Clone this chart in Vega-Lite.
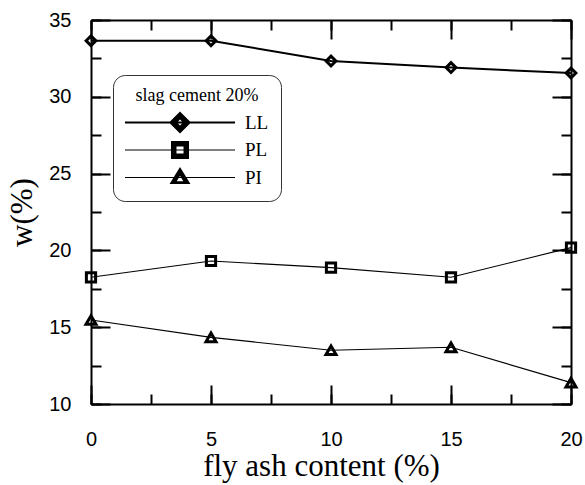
{
  "$schema": "https://vega.github.io/schema/vega-lite/v6.json",
  "width": 480,
  "height": 384,
  "autosize": {"type": "none"},
  "padding": {"left": 91, "top": 20, "right": 14, "bottom": 81},
  "background": "white",
  "config": {
    "view": {"stroke": null},
    "axis": {"domainColor": "black", "tickColor": "black", "labelColor": "black", "titleColor": "black", "grid": false, "domainWidth": 2, "tickWidth": 2, "labelFlush": false, "labelOverlap": false, "tickSize": -10}
  },
  "data": {
    "values": [
      {"flyash": 0, "series": "LL", "w": 33.65},
      {"flyash": 5, "series": "LL", "w": 33.65},
      {"flyash": 10, "series": "LL", "w": 32.33},
      {"flyash": 15, "series": "LL", "w": 31.9},
      {"flyash": 20, "series": "LL", "w": 31.55},
      {"flyash": 0, "series": "PL", "w": 18.25},
      {"flyash": 5, "series": "PL", "w": 19.31},
      {"flyash": 10, "series": "PL", "w": 18.88},
      {"flyash": 15, "series": "PL", "w": 18.25},
      {"flyash": 20, "series": "PL", "w": 20.18},
      {"flyash": 0, "series": "PI", "w": 15.47},
      {"flyash": 5, "series": "PI", "w": 14.34},
      {"flyash": 10, "series": "PI", "w": 13.5},
      {"flyash": 15, "series": "PI", "w": 13.69},
      {"flyash": 20, "series": "PI", "w": 11.39}
    ]
  },
  "layer": [
    {
      "transform": [{"filter": "datum.series === 'LL'"}],
      "mark": {"type": "line", "color": "black", "strokeWidth": 2},
      "encoding": {
        "x": {"field": "flyash", "type": "quantitative", "scale": {"domain": [0, 20], "nice": false, "zero": false},
          "axis": {"orient": "bottom", "values": [0, 2.5, 5, 7.5, 10, 12.5, 15, 17.5, 20],
            "labelExpr": "datum.value % 5 === 0 ? datum.label : ''",
            "labelFont": "Liberation Sans", "labelFontSize": 20, "labelPadding": 35,
            "title": "fly ash content (%)", "titleFont": "Liberation Serif", "titleFontSize": 31, "titleFontWeight": "normal",
            "titleX": 230, "titleY": 71, "titleBaseline": "alphabetic", "titleAlign": "center"}},
        "y": {"field": "w", "type": "quantitative", "scale": {"domain": [10, 35], "nice": false, "zero": false},
          "axis": {"orient": "left", "values": [10, 12.5, 15, 17.5, 20, 22.5, 25, 27.5, 30, 32.5, 35],
            "labelExpr": "datum.value % 5 === 0 ? datum.label : ''",
            "labelFont": "Liberation Sans", "labelFontSize": 20, "labelPadding": 30,
            "title": "w(%)", "titleFont": "Liberation Serif", "titleFontSize": 31, "titleFontWeight": "normal",
            "titleX": -60, "titleY": 192, "titleAngle": -90, "titleBaseline": "alphabetic", "titleAlign": "center"}}
      }
    },
    {
      "transform": [{"filter": "datum.series !== 'LL'"}],
      "mark": {"type": "line", "color": "black", "strokeWidth": 1.1},
      "encoding": {
        "x": {"field": "flyash", "type": "quantitative", "axis": null},
        "y": {"field": "w", "type": "quantitative", "axis": null},
        "detail": {"field": "series", "type": "nominal"}
      }
    },
    {
      "transform": [{"filter": "datum.series === 'LL'"}],
      "mark": {"type": "point", "shape": "diamond", "filled": false, "color": "black", "strokeWidth": 3, "size": 95, "opacity": 1},
      "encoding": {
        "x": {"field": "flyash", "type": "quantitative", "axis": null},
        "y": {"field": "w", "type": "quantitative", "axis": null}
      }
    },
    {
      "transform": [{"filter": "datum.series === 'PL'"}],
      "mark": {"type": "point", "shape": "square", "filled": false, "color": "black", "strokeWidth": 3, "size": 85, "opacity": 1},
      "encoding": {
        "x": {"field": "flyash", "type": "quantitative", "axis": null},
        "y": {"field": "w", "type": "quantitative", "axis": null}
      }
    },
    {
      "transform": [{"filter": "datum.series === 'PI'"}],
      "mark": {"type": "point", "shape": "triangle-up", "filled": false, "color": "black", "strokeWidth": 3, "size": 100, "opacity": 1},
      "encoding": {
        "x": {"field": "flyash", "type": "quantitative", "axis": null},
        "y": {"field": "w", "type": "quantitative", "axis": null}
      }
    },
    {
      "transform": [{"filter": "datum.series === 'none'"}],
      "mark": {"type": "point", "filled": true, "color": "black", "opacity": 1, "strokeWidth": 0},
      "encoding": {
        "shape": {"field": "series", "type": "nominal",
          "scale": {"domain": ["LL", "PL", "PI"], "range": [
            "M-1,-0.018H1V0.018H-1ZM0,-0.2L0.2,0L0,0.2L-0.2,0ZM0,-0.055L-0.055,0L0,0.055L0.055,0Z",
            "M-1,-0.011H1V0.011H-1ZM-0.164,-0.164H0.164V0.164H-0.164ZM-0.064,-0.064V0.064H0.064V-0.064Z",
            "M-1,-0.009H1V0.009H-1ZM0,-0.19L0.19,0.12H-0.19ZM0,-0.03L-0.06,0.07H0.06Z"
          ]},
          "legend": {
            "orient": "none", "legendX": 22, "legendY": 55, "direction": "vertical",
            "title": "slag cement 20%", "titleFont": "Liberation Serif", "titleFontSize": 18, "titleFontWeight": "normal", "titleColor": "black", "titleAnchor": "middle", "titlePadding": 6,
            "labelFont": "Liberation Serif", "labelFontSize": 19, "labelColor": "black", "labelOffset": 10,
            "symbolSize": 12100, "symbolFillColor": "black", "symbolStrokeWidth": 0, "symbolOpacity": 1, "clipHeight": 23, "rowPadding": 4.5,
            "padding": 12, "strokeColor": "#333333", "fillColor": "white", "cornerRadius": 12
          }
        }
      }
    },
    {
      "mark": {"type": "point", "opacity": 0},
      "encoding": {
        "x": {"field": "flyash", "type": "quantitative",
          "axis": {"orient": "bottom", "values": [0, 5, 10, 15, 20], "labels": false, "title": null, "domain": false, "tickSize": -19}},
        "y": {"field": "w", "type": "quantitative",
          "axis": {"orient": "left", "values": [10, 15, 20, 25, 30, 35], "labels": false, "title": null, "domain": false, "tickSize": -19}}
      }
    },
    {
      "mark": {"type": "point", "opacity": 0},
      "encoding": {
        "x": {"field": "flyash", "type": "quantitative",
          "axis": {"orient": "top", "values": [0, 2.5, 5, 7.5, 10, 12.5, 15, 17.5, 20], "labels": false, "title": null, "tickSize": -10}},
        "y": {"field": "w", "type": "quantitative",
          "axis": {"orient": "right", "values": [10, 12.5, 15, 17.5, 20, 22.5, 25, 27.5, 30, 32.5, 35], "labels": false, "title": null, "tickSize": -10}}
      }
    },
    {
      "mark": {"type": "point", "opacity": 0},
      "encoding": {
        "x": {"field": "flyash", "type": "quantitative",
          "axis": {"orient": "top", "values": [0, 5, 10, 15, 20], "labels": false, "title": null, "domain": false, "tickSize": -19}},
        "y": {"field": "w", "type": "quantitative",
          "axis": {"orient": "right", "values": [10, 15, 20, 25, 30, 35], "labels": false, "title": null, "domain": false, "tickSize": -19}}
      }
    }
  ],
  "resolve": {"axis": {"x": "independent", "y": "independent"}}
}
